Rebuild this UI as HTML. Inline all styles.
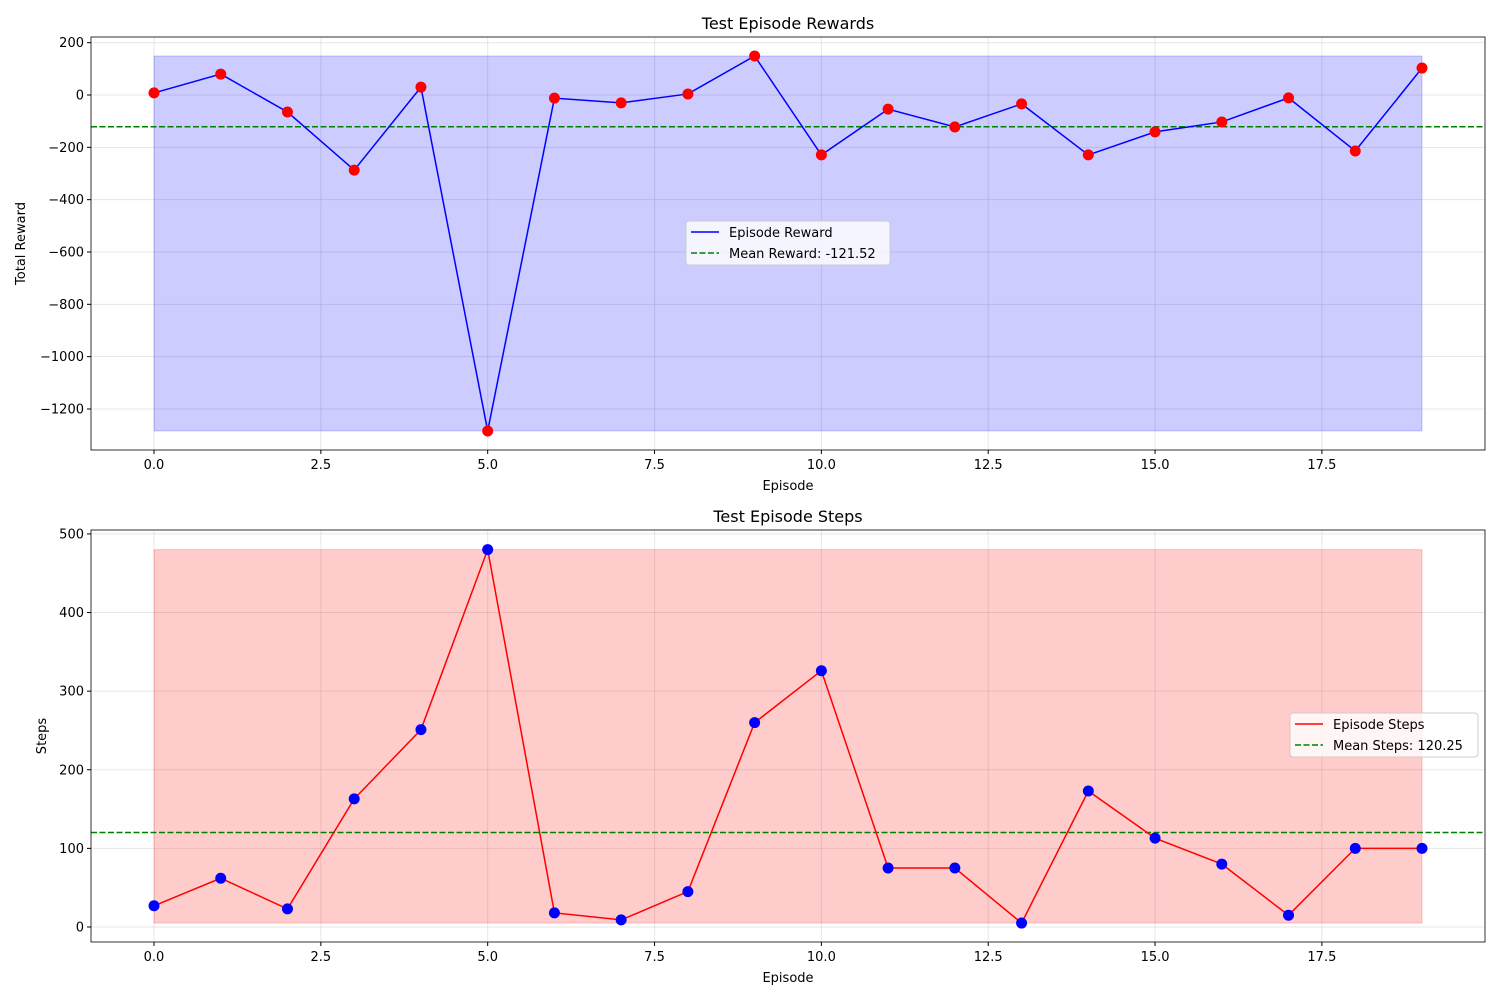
<!DOCTYPE html>
<html><head><meta charset="utf-8"><style>
body{margin:0;background:#fff;font-family:"Liberation Sans","DejaVu Sans",sans-serif}
svg text{font-family:"DejaVu Sans","Liberation Sans",sans-serif;font-size:13px;fill:#000}
</style></head><body>
<svg id="c" width="1500" height="1000"></svg>
<script>
const episodes=[0,1,2,3,4,5,6,7,8,9,10,11,12,13,14,15,16,17,18,19];
const rewards=[8,80,-65,-287,30,-1284,-12,-30,4,149,-229,-54,-122,-34,-229,-141,-103,-11,-214,103];
const rewardMean=-121.52;
const steps=[27,62,23,163,251,480,18,9,45,260,326,75,75,5,173,113,80,15,100,100];
const stepsMean=120.25;
const xTicks=[0,2.5,5,7.5,10,12.5,15,17.5];
const rewardTicks=[200,0,-200,-400,-600,-800,-1000,-1200];
const stepTicks=[0,100,200,300,400,500];
const NS="http://www.w3.org/2000/svg";
const svg=document.getElementById('c');
function el(t,a,p){const e=document.createElementNS(NS,t);for(const k in a)e.setAttribute(k,a[k]);(p||svg).appendChild(e);return e;}
function panel(cfg){
 const L=91,R=1485,T=cfg.top,B=cfg.bottom;
 const g=el('g',{});
 
 
 const xs=v=>L+(v-(-0.944))/(19.944+0.944)*(R-L);
 const ys=v=>B-(v-cfg.ymin)/(cfg.ymax-cfg.ymin)*(B-T);
 // grid
 xTicks.forEach(v=>{el('line',{x1:xs(v),x2:xs(v),y1:T,y2:B,stroke:'#b0b0b0','stroke-opacity':0.3},g);});
 cfg.yTicks.forEach(v=>{el('line',{x1:L,x2:R,y1:ys(v),y2:ys(v),stroke:'#b0b0b0','stroke-opacity':0.3},g);});
 const vals=cfg.values;
 const mn=Math.min(...vals),mx=Math.max(...vals);
 const f=el('rect',{x:xs(episodes[0]),y:ys(mx),width:xs(episodes[episodes.length-1])-xs(episodes[0]),height:ys(mn)-ys(mx),fill:cfg.fill,'fill-opacity':0.2,stroke:cfg.fill,'stroke-opacity':0.2},g);
 
 
 const ml=el('line',{x1:L,x2:R,y1:ys(cfg.mean),y2:ys(cfg.mean),stroke:'green','stroke-width':1.5,'stroke-dasharray':'6,2.5'},g);
 
 
 const pl=el('polyline',{points:vals.map((v,i)=>xs(episodes[i])+','+ys(v)).join(' '),fill:'none',stroke:cfg.line,'stroke-width':1.5},g);
 
 
 vals.forEach((v,i)=>{const c=el('circle',{cx:xs(episodes[i]),cy:ys(v),r:5.5,fill:cfg.dot},g);
  
  });
 el('rect',{x:L,y:T,width:R-L,height:B-T,fill:'none',stroke:'#000','stroke-width':0.8},g);
 xTicks.forEach(v=>{el('line',{x1:xs(v),x2:xs(v),y1:B,y2:B+4,stroke:'#000'},g);
  const t=el('text',{x:xs(v),y:B+19,'text-anchor':'middle'},g);t.textContent=v.toFixed(1);
  });
 cfg.yTicks.forEach(v=>{el('line',{x1:L-4,x2:L,y1:ys(v),y2:ys(v),stroke:'#000'},g);
  const t=el('text',{x:L-7,y:ys(v)+4.5,'text-anchor':'end'},g);t.textContent=String(v).replace('-','\u2212');
  });
 const xt=el('text',{x:(L+R)/2,y:B+40,'text-anchor':'middle'},g);xt.textContent='Episode';
 
 const yt=el('text',{x:0,y:0,'text-anchor':'middle',transform:`translate(${cfg.ylx},${(T+B)/2}) rotate(-90)`},g);yt.textContent=cfg.ylabel;
 
 const tt=el('text',{x:(L+R)/2,y:T-8,'text-anchor':'middle','font-size':'16px'},g);tt.style.fontSize='16px';tt.textContent=cfg.title;
 
 const lg=el('g',{},g);
 
 const [lx,ly,lw]=cfg.legend;
 el('rect',{x:lx,y:ly,width:lw,height:44,rx:3,fill:'#fff','fill-opacity':0.8,stroke:'#ccc'},lg);
 el('line',{x1:lx+5,x2:lx+33,y1:ly+11,y2:ly+11,stroke:cfg.line,'stroke-width':1.5},lg);
 el('line',{x1:lx+5,x2:lx+33,y1:ly+32,y2:ly+32,stroke:'green','stroke-width':1.5,'stroke-dasharray':'6,2.5'},lg);
 const a=el('text',{x:lx+43,y:ly+16},lg);a.textContent=cfg.lab1;
 
 const b=el('text',{x:lx+43,y:ly+37},lg);b.textContent=cfg.lab2+cfg.mean.toFixed(2);
 
}
panel({name:'rewards-panel',top:37,bottom:450,ymin:-1356.8,ymax:221.7,yTicks:rewardTicks,values:rewards,mean:rewardMean,
 fill:'blue',line:'blue',dot:'red',title:'Test Episode Rewards',ylabel:'Total Reward',ylx:25,legend:[686,221,204],lab1:'Episode Reward',lab2:'Mean Reward: '});
panel({name:'steps-panel',top:530,bottom:942,ymin:-19.1,ymax:505,yTicks:stepTicks,values:steps,mean:stepsMean,
 fill:'red',line:'red',dot:'blue',title:'Test Episode Steps',ylabel:'Steps',ylx:46,legend:[1290,713,188],lab1:'Episode Steps',lab2:'Mean Steps: '});
</script>
</body></html>
